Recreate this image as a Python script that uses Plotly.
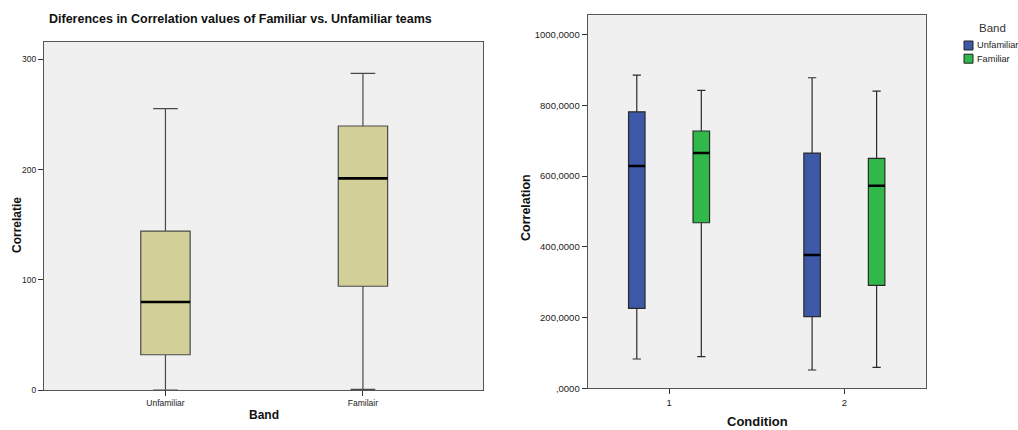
import plotly.graph_objects as go

# ---- data -------------------------------------------------------------
band_labels = ["Unfamiliar", "Familair"]
band_low = [0.0, 0.5]
band_q1 = [32.0, 94.1]
band_median = [79.8, 192.0]
band_q3 = [144.2, 239.5]
band_high = [255.2, 287.3]

conditions = ["1", "2"]
unfam_low = [82.9, 51.8]
unfam_q1 = [226.0, 202.5]
unfam_median = [628.7, 377.0]
unfam_q3 = [782.0, 665.4]
unfam_high = [886.0, 878.4]

fam_low = [89.4, 59.4]
fam_q1 = [468.3, 291.3]
fam_median = [665.4, 573.0]
fam_q3 = [727.7, 650.5]
fam_high = [842.8, 840.8]

left_ticks = [0, 100, 200, 300]
right_ticks = [0, 200, 400, 600, 800, 1000]
right_ticktext = [",0000", "200,0000", "400,0000", "600,0000", "800,0000", "1000,0000"]

legend_names = ["Unfamiliar", "Familiar"]

# ---- style ------------------------------------------------------------
FONT = "Liberation Sans, Arial, sans-serif"
KHAKI = "#d3cf99"
BLUE = "#3e58a8"
GREEN = "#30b84a"
OUTLINE = "#4a4a4a"
PLOT_BG = "#f0f0f0"
band_colors = [BLUE, GREEN]

W, H = 1018, 430


def px_x(p):
    return p / W


def px_y(p):
    return 1 - p / H


fig = go.Figure()

# Left panel: correlation by band
fig.add_trace(go.Box(
    x=band_labels, q1=band_q1, median=band_median, q3=band_q3,
    lowerfence=band_low, upperfence=band_high,
    fillcolor=KHAKI, line=dict(color=OUTLINE, width=1.2),
    whiskerwidth=0.5, width=0.25, offsetgroup="band",
    xaxis="x", yaxis="y", showlegend=False, hoverinfo="skip",
))
# thick black median bar drawn as a collapsed box on the median
fig.add_trace(go.Box(
    x=band_labels, q1=band_median, median=band_median, q3=band_median,
    lowerfence=band_median, upperfence=band_median,
    fillcolor="rgba(0,0,0,0)", line=dict(color="black", width=2.6),
    whiskerwidth=0, width=0.25, offsetgroup="band",
    xaxis="x", yaxis="y", showlegend=False, hoverinfo="skip",
))

# Right panel: correlation by condition, grouped by band
for name, color, lo, q1, med, q3, hi in [
    (legend_names[0], band_colors[0], unfam_low, unfam_q1, unfam_median, unfam_q3, unfam_high),
    (legend_names[1], band_colors[1], fam_low, fam_q1, fam_median, fam_q3, fam_high),
]:
    fig.add_trace(go.Box(
        x=conditions, q1=q1, median=med, q3=q3,
        lowerfence=lo, upperfence=hi, name=name,
        fillcolor=color, line=dict(color="#2a2a2a", width=1.2),
        whiskerwidth=0.5, offsetgroup=name, showlegend=False,
        xaxis="x2", yaxis="y2", hoverinfo="skip",
    ))
    fig.add_trace(go.Box(
        x=conditions, q1=med, median=med, q3=med,
        lowerfence=med, upperfence=med, name=name,
        fillcolor="rgba(0,0,0,0)", line=dict(color="black", width=2.6),
        whiskerwidth=0, offsetgroup=name, showlegend=False,
        xaxis="x2", yaxis="y2", hoverinfo="skip",
    ))

axis_common = dict(
    showgrid=False, zeroline=False, showline=True, mirror=True,
    linecolor="#555555", linewidth=1.2, ticks="outside", ticklen=5,
    tickcolor="#333333", automargin=False,
)

fig.update_layout(
    width=W, height=H,
    margin=dict(l=0, r=0, t=0, b=0),
    paper_bgcolor="white", plot_bgcolor=PLOT_BG,
    font=dict(family=FONT, color="#222222"),
    boxmode="group", boxgap=0.264, boxgroupgap=0.744,
    showlegend=False,
    xaxis=dict(axis_common, domain=[px_x(44), px_x(483)], anchor="y",
               type="category", range=[-0.615, 1.608],
               tickfont=dict(size=8.5)),
    yaxis=dict(axis_common, domain=[px_y(390), px_y(42)], anchor="x",
               range=[0, 315.7], tickvals=left_ticks,
               tickfont=dict(size=8.5)),
    xaxis2=dict(axis_common, domain=[px_x(587.7), px_x(925.7)], anchor="y2",
                type="category", range=[-0.464, 1.464],
                tickfont=dict(size=9.5)),
    yaxis2=dict(axis_common, domain=[px_y(388.3), px_y(15.3)], anchor="x2",
                range=[0, 1055], tickvals=right_ticks, ticktext=right_ticktext,
                tickfont=dict(size=9.5)),
)

titles = [
    dict(text="<b>Diferences in Correlation values of Familiar vs. Unfamiliar teams</b>",
         x=px_x(47), y=px_y(19), xanchor="left", yanchor="middle",
         font=dict(size=12.5, color="#111111")),
    dict(text="<b>Correlatie</b>", x=px_x(17), y=px_y(225), textangle=-90,
         xanchor="center", yanchor="middle", font=dict(size=12, color="#111111")),
    dict(text="<b>Band</b>", x=px_x(263.5), y=px_y(415),
         xanchor="center", yanchor="middle", font=dict(size=12, color="#111111")),
    dict(text="<b>Correlation</b>", x=px_x(526), y=px_y(208), textangle=-90,
         xanchor="center", yanchor="middle", font=dict(size=12.5, color="#111111")),
    dict(text="<b>Condition</b>", x=px_x(757), y=px_y(421.5),
         xanchor="center", yanchor="middle", font=dict(size=13, color="#111111")),
    # legend heading
    dict(text="Band", x=px_x(992), y=px_y(27.5), xanchor="center", yanchor="middle",
         font=dict(size=11.5, color="#333333")),
]
for t in titles:
    fig.add_annotation(xref="paper", yref="paper", showarrow=False, **t)

# compact legend: colour swatch + label per band
for i, (name, color) in enumerate(zip(legend_names, band_colors)):
    top = 41 + 13.2 * i
    fig.add_shape(type="rect", xref="paper", yref="paper",
                  x0=px_x(964), x1=px_x(973), y0=px_y(top + 9), y1=px_y(top),
                  fillcolor=color, line=dict(color="#222222", width=1))
    fig.add_annotation(xref="paper", yref="paper", showarrow=False,
                       text=name, x=px_x(974.5), y=px_y(top + 4.5),
                       xanchor="left", yanchor="middle",
                       font=dict(size=9.2, color="#222222"))

fig.write_html("out.html")
